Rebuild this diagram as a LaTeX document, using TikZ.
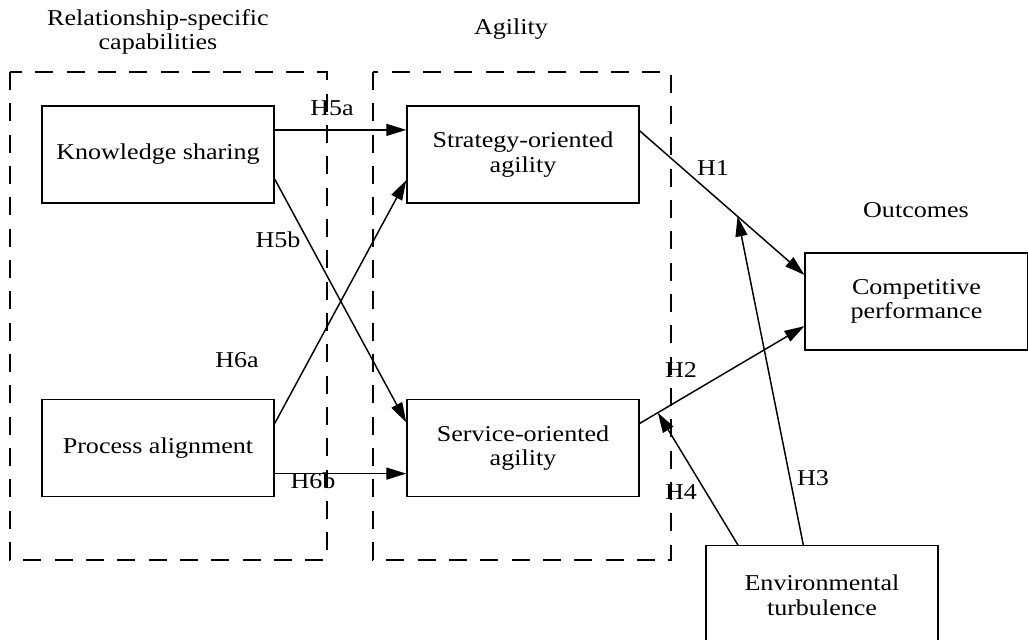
\documentclass[tikz,border=0pt]{standalone}
\usepackage{fontspec}
\setmainfont{Liberation Serif}[FakeStretch=1.15]
\usetikzlibrary{arrows.meta,calc}
\begin{document}
\begin{tikzpicture}[x=0.75pt,y=-0.75pt,
  txt/.style={font=\fontsize{17}{18.5}\selectfont,align=center,inner sep=0pt},
  box/.style={txt,draw,line width=1.1pt,minimum width=174pt,minimum height=72.75pt},
  grp/.style={draw,line width=1.1pt,dash pattern=on 13.5pt off 10pt},
  arr/.style={line width=1.1pt,-{Triangle[length=15pt,width=9pt]}}]
\useasboundingbox (0,0) rectangle (1028,639);
% group frames
\draw[grp] (10,72) rectangle (327,560);
\draw[grp] (373,72) rectangle (671,560);
% titles
\node[txt] (t1) at (158,32) {Relationship-specific\\capabilities};
\node[txt] (t2) at (511,29) {Agility};
\node[txt] (t3) at (916,210) {Outcomes};
% boxes
\node[box] (ks) at (158,154.5) {Knowledge sharing};
\node[box] (pa) at (158,448) {Process alignment};
\node[box] (sa) at (523,154.5) {Strategy-oriented\\agility};
\node[box] (va) at (523,448) {Service-oriented\\agility};
\node[box,minimum width=167pt] (cp) at (916.5,301.5) {Competitive\\performance};
\node[box,minimum height=90pt,anchor=north] (et) at (822,545) {};
\node[txt] (ett) at (822,595) {Environmental\\turbulence};
% anchor points
\coordinate (ks1) at ($(ks.north east)!0.25!(ks.south east)$);
\coordinate (ks2) at ($(ks.north east)!0.75!(ks.south east)$);
\coordinate (pa1) at ($(pa.north east)!0.25!(pa.south east)$);
\coordinate (pa2) at ($(pa.north east)!0.76!(pa.south east)$);
\coordinate (sa1) at ($(sa.north west)!0.25!(sa.south west)$);
\coordinate (sa2) at ($(sa.north west)!0.76!(sa.south west)$);
\coordinate (sa3) at ($(sa.north east)!0.26!(sa.south east)$);
\coordinate (va1) at ($(va.north west)!0.24!(va.south west)$);
\coordinate (va2) at ($(va.north west)!0.76!(va.south west)$);
\coordinate (va3) at ($(va.north east)!0.25!(va.south east)$);
\coordinate (cp1) at ($(cp.north west)!0.23!(cp.south west)$);
\coordinate (cp2) at ($(cp.north west)!0.75!(cp.south west)$);
\coordinate (et1) at ($(et.north west)!0.14!(et.north east)$);
\coordinate (et2) at ($(et.north west)!0.42!(et.north east)$);
\coordinate (h1p) at ($(sa3)!0.594!(cp1)$);
\coordinate (h2p) at ($(va3)!0.11!(cp2)$);
% arrows
\draw[arr] (ks1) -- (sa1);
\draw[arr] (ks2) -- (va1);
\draw[arr] (pa1) -- (sa2);
\draw[arr] (pa2) -- (va2);
\draw[arr] (sa3) -- (cp1);
\draw[arr] (va3) -- (cp2);
\draw[arr] (et2) -- (h1p);
\draw[arr] (et1) -- (h2p);
% labels
\node[txt] (l5a) at (332,108) {H5a};
\node[txt] (l5b) at (278,240) {H5b};
\node[txt] (l6a) at (237,360) {H6a};
\node[txt] (l6b) at (313,481) {H6b};
\node[txt] (l1) at (713,168) {H1};
\node[txt] (l2) at (681,370) {H2};
\node[txt] (l3) at (813,478) {H3};
\node[txt] (l4) at (681,492) {H4};
\end{tikzpicture}
\end{document}
